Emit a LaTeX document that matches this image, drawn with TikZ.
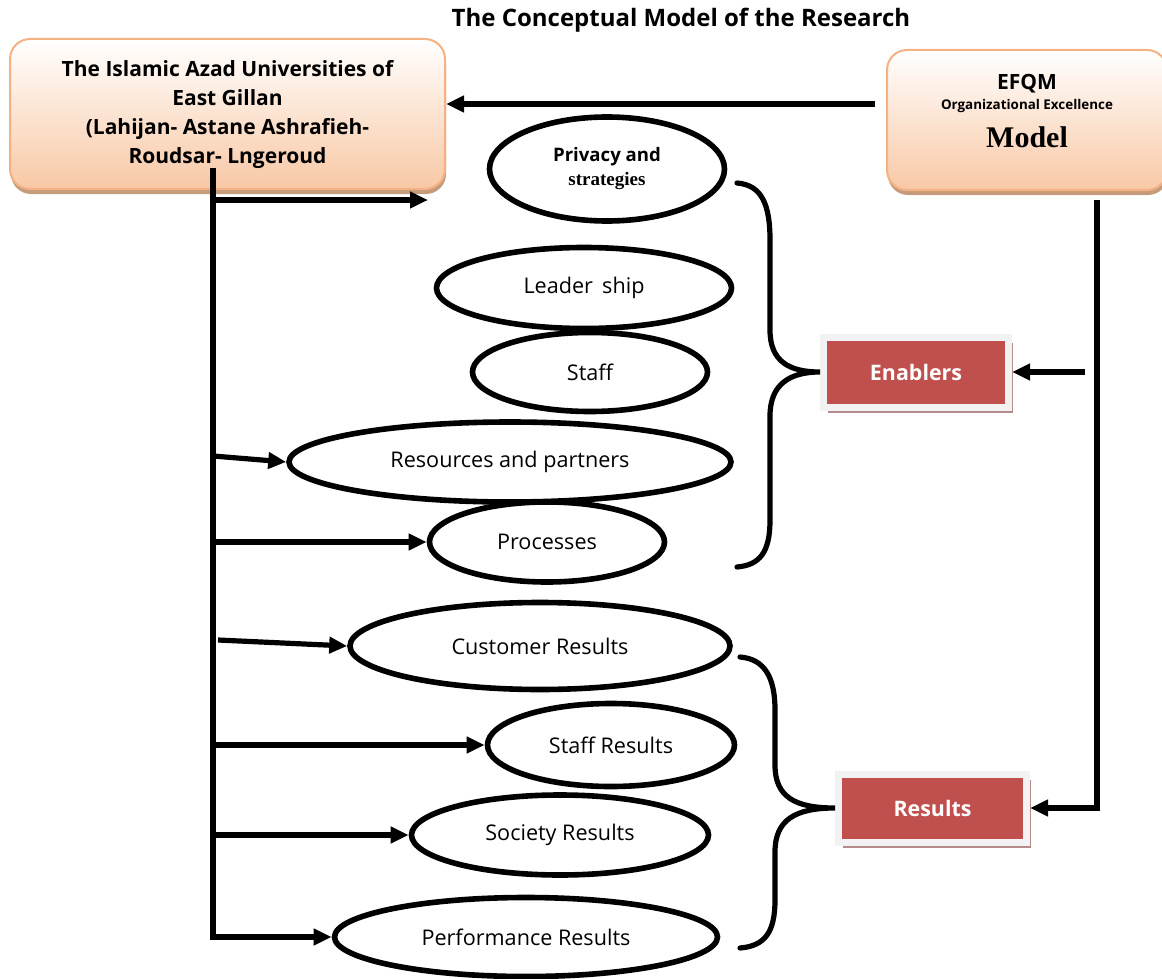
\documentclass[tikz,border=0pt]{standalone}
\usepackage{fontspec}
\setmainfont{Open Sans}
\newfontfamily\timesfont{Liberation Serif}
\usetikzlibrary{arrows.meta,shapes.geometric,shadows}
\definecolor{peachedge}{RGB}{244,177,131}
\definecolor{peachfill}{RGB}{248,200,165}
\definecolor{peachshadow}{RGB}{196,156,124}
\definecolor{brickred}{RGB}{192,80,77}
\definecolor{framegray}{RGB}{242,242,242}
\definecolor{redshadow}{RGB}{180,140,140}
\tikzset{
  oval/.style={ellipse, draw=black, line width=2.8pt, fill=white, inner sep=0pt, font=\fontsize{10.8}{12}\selectfont},
  peachbox/.style={draw=peachedge, line width=1pt, rounded corners=10pt, top color=white, bottom color=peachfill,
    drop shadow={shadow xshift=0.5pt, shadow yshift=-2.5pt, fill=peachshadow, opacity=1}, align=center, inner sep=0pt},
  redbox/.style={fill=brickred, draw=framegray, line width=3.5pt, text=white, inner sep=0pt,
    font=\bfseries\fontsize{10.7}{12}\selectfont,
    drop shadow={shadow xshift=2.2pt, shadow yshift=-3pt, fill=redshadow, opacity=1}},
  link/.style={line width=2.6pt, -{Triangle[length=9pt,width=8pt]}},
  brace/.style={line width=2.6pt, line cap=round},
}
\begin{document}
\begin{tikzpicture}[x=0.5pt,y=-0.5pt]
  \useasboundingbox (0,0) rectangle (1162,979);
  % title
  \node[font=\bfseries\fontsize{12}{14}\selectfont] (title) at (681,20) {The Conceptual Model of the Research};
  % boxes at the top
  \node[peachbox, minimum width=217.5pt, minimum height=75pt, font=\bfseries\fontsize{10.5}{14.5}\selectfont] (univ) at (227.5,114)
    {The Islamic Azad Universities of\\East Gillan\\(Lahijan- Astane Ashrafieh-\\Roudsar- Lngeroud};
  \node[peachbox, minimum width=140pt, minimum height=70pt] (efqm) at (1027,120)
    {{\bfseries\fontsize{10.5}{11}\selectfont EFQM}\\[-2pt]
     {\bfseries\fontsize{6.7}{7}\selectfont Organizational Excellence}\\[6pt]
     {\timesfont\bfseries\fontsize{15}{16}\selectfont Model\rule[-9pt]{0pt}{0pt}}};
  % enablers
  \node[oval, minimum width=117.5pt, minimum height=52pt, align=center] (privacy) at (607,169)
    {{\bfseries\fontsize{9.3}{12}\selectfont Privacy and}\\{\timesfont\bfseries\fontsize{9.5}{10}\selectfont strategies}};
  \node[oval, minimum width=147.5pt, minimum height=40.5pt] (leader) at (584,288) {Leader\, ship};
  \node[oval, minimum width=117.5pt, minimum height=39.5pt] (staff) at (590,372) {Staff};
  \node[oval, minimum width=221pt, minimum height=40pt] (resources) at (510,462) {Resources and partners};
  \node[oval, minimum width=117.5pt, minimum height=40pt] (processes) at (547,542) {Processes};
  % results
  \node[oval, minimum width=190pt, minimum height=43.5pt] (customer) at (540,646) {Customer Results};
  \node[oval, minimum width=123.5pt, minimum height=41.5pt] (staffres) at (611,745) {Staff Results};
  \node[oval, minimum width=148.5pt, minimum height=40pt] (society) at (560,835) {Society Results};
  \node[oval, minimum width=191.5pt, minimum height=39.5pt] (performance) at (526,937) {Performance Results};
  % criteria groups
  \node[redbox, minimum width=92.5pt, minimum height=35pt] (enablers) at (916,372) {Enablers};
  \node[redbox, minimum width=94pt, minimum height=34pt] (results) at (932.5,808) {Results};
  % trunk on the left
  \coordinate (trunktop) at (213,168);
  \coordinate (trunkbot) at (213,937);
  \coordinate (b1) at (213,200);
  \coordinate (b1end) at (428,200);
  \coordinate (b2) at (213,456);
  \coordinate (b3) at (213,542);
  \coordinate (b4) at (218,640);
  \coordinate (b5) at (213,745);
  \coordinate (b6) at (213,835);
  \draw[link] (trunktop) -- (trunkbot) -- (performance.west);
  \draw[link] (b1) -- (b1end);
  \draw[link] (b2) -- (resources.west);
  \draw[link] (b3) -- (processes.west);
  \draw[link] (b4) -- (customer.west);
  \draw[link] (b5) -- (staffres.west);
  \draw[link] (b6) -- (society.west);
  % model line on the right
  \coordinate (efqmout) at (875,104);
  \draw[link] (efqmout) -- (efqmout -| univ.east);
  \coordinate (rtop) at (1097,200);
  \coordinate (rbot) at (1097,808);
  \coordinate (estart) at (1085,372);
  \draw[link] (rtop) -- (rbot) -- (results.east);
  \draw[link] (estart) -- (enablers.east);
  % braces
  \draw[brace] (737,183) .. controls (762,185) and (770,205) .. (770,240) -- (770,330)
    .. controls (770,362) and (790,372) .. (enablers.west)
    .. controls (790,372) and (770,384) .. (770,416) -- (770,520)
    .. controls (770,552) and (760,565) .. (737,567);
  \draw[brace] (740,657) .. controls (765,659) and (775,678) .. (775,710) -- (775,765)
    .. controls (775,797) and (795,808) .. (results.west)
    .. controls (795,808) and (775,820) .. (775,852) -- (775,900)
    .. controls (775,932) and (765,946) .. (740,948);
\end{tikzpicture}
\end{document}
